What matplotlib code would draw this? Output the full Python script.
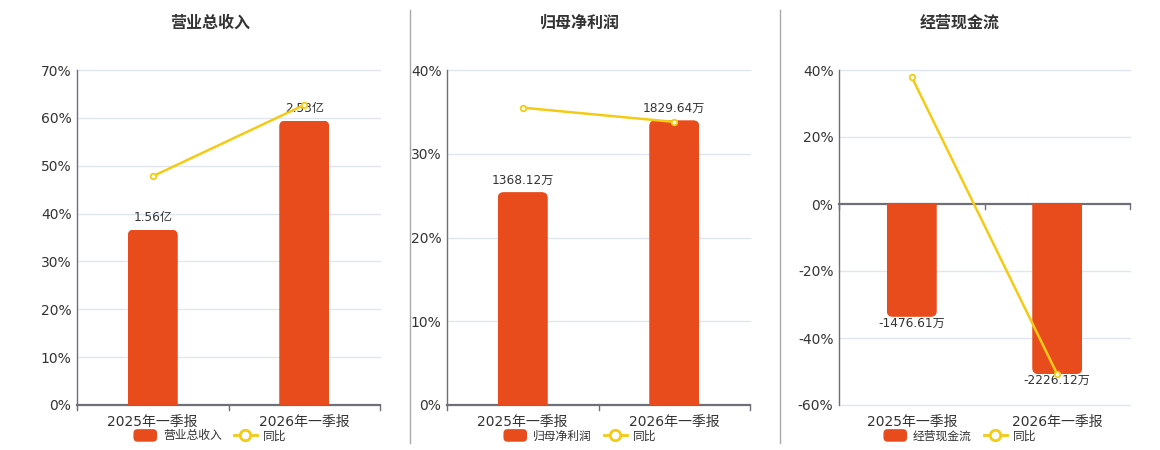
import matplotlib
matplotlib.use("Agg")
import matplotlib.pyplot as plt
from matplotlib.patches import FancyBboxPatch, Patch
from matplotlib.lines import Line2D
from matplotlib.legend_handler import HandlerPatch

plt.rcParams['font.family'] = ['DejaVu Sans', 'Noto Sans CJK SC']

# --- data ---
periods = ["2025年一季报", "2026年一季报"]

revenue = [1.56, 2.53]            # 亿
revenue_labels = ["1.56亿", "2.53亿"]
revenue_yoy = [47.8, 62.7]        # %

profit = [1368.12, 1829.64]       # 万
profit_labels = ["1368.12万", "1829.64万"]
profit_yoy = [35.5, 33.8]

cash = [-1476.61, -2226.12]       # 万
cash_labels = ["-1476.61万", "-2226.12万"]
cash_yoy = [37.9, -50.8]

BAR = "#E84C1C"
LINE = "#F4CB14"
TXT = "#333333"
AXC = "#6E7079"
GRID = "#E0E6F1"

W, H = 1160, 450

panels = [
    dict(title="营业总收入", name="营业总收入", vals=revenue, labels=revenue_labels, yoy=revenue_yoy,
         pct=(0, 70, 10), bar_lim=(0, 2.98), box=(77, 70, 380, 405), cx=210),
    dict(title="归母净利润", name="归母净利润", vals=profit, labels=profit_labels, yoy=profit_yoy,
         pct=(0, 40, 10), bar_lim=(0, 2153), box=(447, 70, 750, 405), cx=580),
    dict(title="经营现金流", name="经营现金流", vals=cash, labels=cash_labels, yoy=cash_yoy,
         pct=(-60, 40, 20), bar_lim=(-60 * 43.85, 40 * 43.85), box=(839, 70, 1130, 405), cx=960),
]


class RoundRectHandler(HandlerPatch):
    def create_artists(self, legend, orig_handle, xdescent, ydescent, width, height, fontsize, trans):
        p = FancyBboxPatch((-xdescent, -ydescent - 1), width, height + 2,
                           boxstyle="round,pad=0,rounding_size=3",
                           fc=orig_handle.get_facecolor(), ec="none", transform=trans)
        return [p]


fig = plt.figure(figsize=(W / 100, H / 100), dpi=100)

for p in panels:
    x0, y0, x1, y1 = p["box"]
    wpx, hpx = x1 - x0, y1 - y0
    axl = fig.add_axes([x0 / W, 1 - y1 / H, wpx / W, hpx / H])
    axb = axl.twinx()

    lo, hi, step = p["pct"]
    axl.set_ylim(lo, hi)
    axl.set_xlim(-0.5, 1.5)
    axb.set_ylim(*p["bar_lim"])
    axb.set_xlim(-0.5, 1.5)

    ticks = list(range(lo, hi + 1, step))
    axl.set_yticks(ticks)
    axl.set_yticklabels([f"{t}%" for t in ticks])
    axl.tick_params(axis="y", length=0, pad=4, labelsize=10, labelcolor=TXT)
    for t in ticks:
        if t != 0:
            axl.axhline(t, color=GRID, lw=1, zorder=0, clip_on=False)

    axl.set_xticks([0, 1])
    axl.set_xticklabels(periods)
    axl.tick_params(axis="x", length=0, pad=7, labelsize=10, labelcolor=TXT)

    for s in ["top", "right", "bottom"]:
        axl.spines[s].set_visible(False)
        axb.spines[s].set_visible(False)
    axb.spines["left"].set_visible(False)
    axl.spines["left"].set_color(AXC)
    axl.spines["left"].set_linewidth(1)
    axb.set_yticks([])

    # category axis line at zero with boundary ticks
    axl.axhline(0, color=AXC, lw=1.6, zorder=3, clip_on=False)
    tick_len = 5 * (hi - lo) / hpx
    for xb in [-0.5, 0.5, 1.5]:
        axl.plot([xb, xb], [0, -tick_len], color=AXC, lw=1, clip_on=False, zorder=3)

    # bars with rounded outer corners
    bw = 50 / wpx * 2
    bars = axb.bar([0, 1], p["vals"], width=bw, color=BAR, zorder=2)
    ux = 2 / wpx
    uy = (p["bar_lim"][1] - p["bar_lim"][0]) / hpx
    r = 6
    for rect in bars:
        bx, by, bwid, bh = rect.get_x(), rect.get_y(), rect.get_width(), rect.get_height()
        bot, top = min(by, by + bh), max(by, by + bh)
        if bh >= 0:
            bot -= 2 * r * uy
        else:
            top += 2 * r * uy
        fb = FancyBboxPatch((bx, bot), bwid, top - bot,
                            boxstyle=f"round,pad=0,rounding_size={r * ux}",
                            mutation_aspect=uy / ux, fc=BAR, ec="none", zorder=2)
        axb.add_patch(fb)
        fb.set_clip_path(rect)
        rect.set_facecolor("none")

    for i, (v, lab) in enumerate(zip(p["vals"], p["labels"])):
        if v >= 0:
            axb.annotate(lab, (i, v), xytext=(0, 4), textcoords="offset points",
                         ha="center", va="bottom", fontsize=8.7, color=TXT, zorder=4)
        else:
            axb.annotate(lab, (i, v), xytext=(0, 0), textcoords="offset points",
                         ha="center", va="top", fontsize=8.7, color=TXT, zorder=4)

    # yoy line on top, in percent scale
    axb.plot([0, 1], p["yoy"], transform=axl.transData, color=LINE, lw=1.8,
             marker="o", ms=4, mfc="white", mec=LINE, mew=1.3, zorder=5)

    fig.text(p["cx"] / W, 1 - 23 / H, p["title"], ha="center", va="center",
             fontsize=11.5, fontweight="bold", color=TXT)

    handles = [Patch(facecolor=BAR, label=p["name"]),
               Line2D([], [], color=LINE, lw=2, marker="o", ms=7.5, mfc="white",
                      mec=LINE, mew=2, label="同比")]
    fig.legend(handles=handles, loc="center", bbox_to_anchor=(p["cx"] / W, 1 - 436 / H),
               ncol=2, frameon=False, fontsize=8.5, handlelength=2.0, handleheight=0.9,
               handletextpad=0.5, columnspacing=1.0, labelcolor=TXT,
               handler_map={Patch: RoundRectHandler()})

# panel separators
for xs in [410, 780]:
    fig.add_artist(Line2D([xs / W, xs / W], [1 - 10 / H, 1 - 443 / H], color="#AAAAAA", lw=1))

fig.savefig("out.png", dpi=100)
